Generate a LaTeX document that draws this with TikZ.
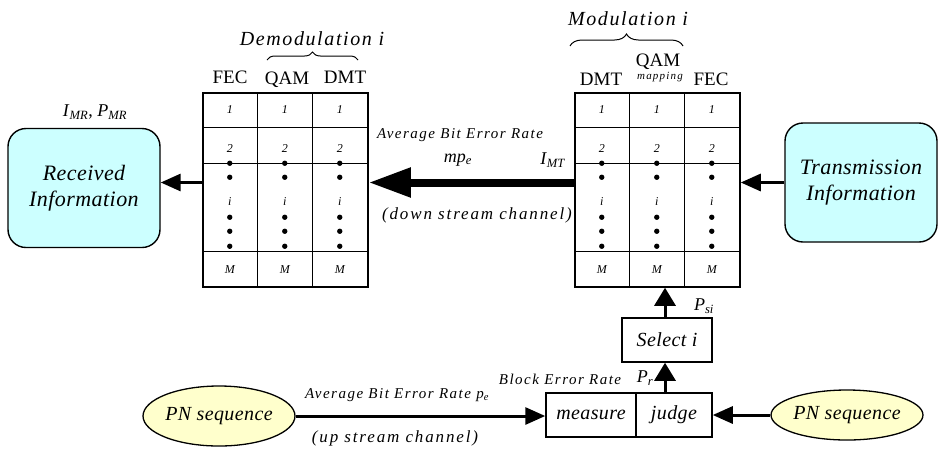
\documentclass[tikz,border=0pt]{standalone}
\usepackage{fontspec}
\setmainfont{Liberation Serif}
\newfontfamily\widefont[LetterSpace=8]{Liberation Serif}
\newfontfamily\tightfont[LetterSpace=2]{Liberation Serif}
\newfontfamily\ratefont[LetterSpace=10]{Liberation Serif}
\newfontfamily\chanfont[LetterSpace=11]{Liberation Serif}
\usetikzlibrary{arrows.meta,decorations.pathreplacing,shapes.geometric,calc}
\definecolor{infofill}{HTML}{CCFFFF}
\definecolor{pnfill}{HTML}{FFFFCC}
\newcommand{\isub}[2]{\textit{#1}\textsubscript{\textit{#2}}}

\begin{document}
\begin{tikzpicture}[x=1pt,y=-1pt,
  infobox/.style={draw, line width=1.4pt, rounded corners=18pt, fill=infofill,
    minimum width=152pt, minimum height=119pt, inner sep=0pt, align=center,
    font=\fontsize{22}{26}\selectfont\tightfont\itshape},
  pnnode/.style={ellipse, draw, line width=1.3pt, fill=pnfill, inner sep=0pt,
    font=\fontsize{20}{22}\selectfont\tightfont\itshape},
  tablebox/.style={draw, line width=1.5pt, minimum width=165pt, minimum height=194pt, inner sep=0pt},
  blockbox/.style={draw, line width=1.5pt, minimum height=44pt, inner sep=0pt,
    font=\fontsize{20}{24}\selectfont\tightfont\itshape},
  cell/.style={inner sep=0pt, font=\fontsize{12}{13}\selectfont\itshape},
  header/.style={inner sep=0pt, font=\fontsize{19}{22}\selectfont},
  title/.style={inner sep=0pt, font=\fontsize{20}{24}\selectfont\widefont\itshape},
  rate/.style={inner sep=0pt, font=\fontsize{15}{18}\selectfont\ratefont\itshape},
  chan/.style={inner sep=0pt, font=\fontsize{17}{20}\selectfont\chanfont\itshape},
  sym/.style={inner sep=0pt, font=\fontsize{18}{20}\selectfont},
  arr/.style={line width=3pt, -{Triangle[length=20pt,width=17pt]}},
  varr/.style={line width=3pt, -{Triangle[length=18pt,width=21pt]}},
  bigarr/.style={line width=8pt, -{Triangle[length=42pt,width=28pt]}},
  bracestyle/.style={decorate, line width=1pt}]
\useasboundingbox (0,0) rectangle (939,451);

% information boxes
\node[infobox] (rec) at (84,188) {Received\\Information};
\node[infobox] (trans) at (861,182.5) {Transmission\\Information};

% demodulation and modulation tables
\node[tablebox] (demod) at (285.5,190) {};
\node[tablebox] (mod) at (657.5,190) {};

\foreach \t in {demod,mod}{
  \foreach \dx in {55,110}
    \draw[line width=1.5pt] ($(\t.north west)+(\dx,0)$) -- ($(\t.south west)+(\dx,0)$);
  \foreach \dy in {35,71,159}
    \draw[line width=1.5pt] ($(\t.north west)+(0,\dy)$) -- ($(\t.north east)+(0,\dy)$);
  \foreach \k in {1,2,3}{
    \coordinate (\t-c\k) at ($(\t.north west)+(55*\k-27.5,0)$);
    \node[cell] (\t-\k-one) at ($(\t-c\k)+(0,17)$) {1};
    \node[cell] (\t-\k-two) at ($(\t-c\k)+(0,56)$) {2};
    \node[cell] (\t-\k-i) at ($(\t-c\k)+(0,109)$) {i};
    \node[cell] (\t-\k-m) at ($(\t-c\k)+(0,177)$) {M};
    \foreach \dy in {71,85,125,139,154}
      \fill ($(\t-c\k)+(0,\dy)$) circle[radius=2.7];
  }
}

% column headers
\node[header] (dfec) at (230,77) {FEC};
\node[header] (dqam) at (287,80) {QAM};
\node[header] (ddmt) at (345,77) {DMT};
\node[header] (mdmt) at (601,79) {DMT};
\node[header] (mqam) at (658,62) {QAM};
\node[inner sep=0pt, font=\fontsize{11}{12}\selectfont\chanfont\itshape] (mmap) at (660,77) {mapping};
\node[header] (mfec) at (711,79) {FEC};

% braces and titles
\draw[bracestyle, decoration={brace, amplitude=8pt}] (267,60) -- (358,60);
\node[title] (demodtitle) at (312,39) {Demodulation i};
\draw[bracestyle, decoration={brace, amplitude=12pt}] (570,46) -- (683,46);
\node[title] (modtitle) at (628,19) {Modulation i};

% decision blocks
\node[blockbox, minimum width=90pt] (sel) at (667,340) {Select i};
\node[blockbox, minimum width=90pt] (meas) at (591,415) {measure};
\node[blockbox, minimum width=76pt] (judge) at (674,415) {judge};

% PN sources
\node[pnnode, minimum width=134pt, minimum height=60pt] (pnl) at (219,416) {PN sequence};
\node[pnnode, minimum width=123pt, minimum height=50pt] (pnr) at (847,415) {PN sequence};

% connectors
\draw[arr] (trans.west) -- (mod.east |- trans.west);
\draw[bigarr] (mod.west |- trans.west) -- (demod.east |- trans.west);
\draw[arr] (demod.west |- trans.west) -- (rec.east |- trans.west);
\coordinate (up) at (665,0);
\draw[varr] (up |- sel.north) -- (up |- mod.south);
\draw[varr] (up |- judge.north) -- (up |- sel.south);
\draw[arr] (pnr.west) -- (judge.east);
\draw[arr] (pnl.east) -- (meas.west |- pnl.east);

% labels
\node[sym] (imr) at (95,112) {\isub{I}{MR}, \isub{P}{MR}};
\node[rate] (avgd) at (460,135) {Average Bit Error Rate};
\node[sym] (mpe) at (458,160) {\textit{mp}\textsubscript{\textit{e}}};
\node[sym] (imt) at (553,160) {\isub{I}{MT}};
\node[chan] (down) at (477,215) {(down stream channel)};
\node[sym] (psi) at (704,306) {\isub{P}{si}};
\node[rate] (bler) at (560,379) {Block Error Rate};
\node[sym] (pr) at (645,378) {\isub{P}{r}};
\node[rate] (avgu) at (397,395) {Average Bit Error Rate \textit{p}\textsubscript{\textit{e}}};
\node[chan] (upch) at (395,438) {(up stream channel)};
\end{tikzpicture}
\end{document}
